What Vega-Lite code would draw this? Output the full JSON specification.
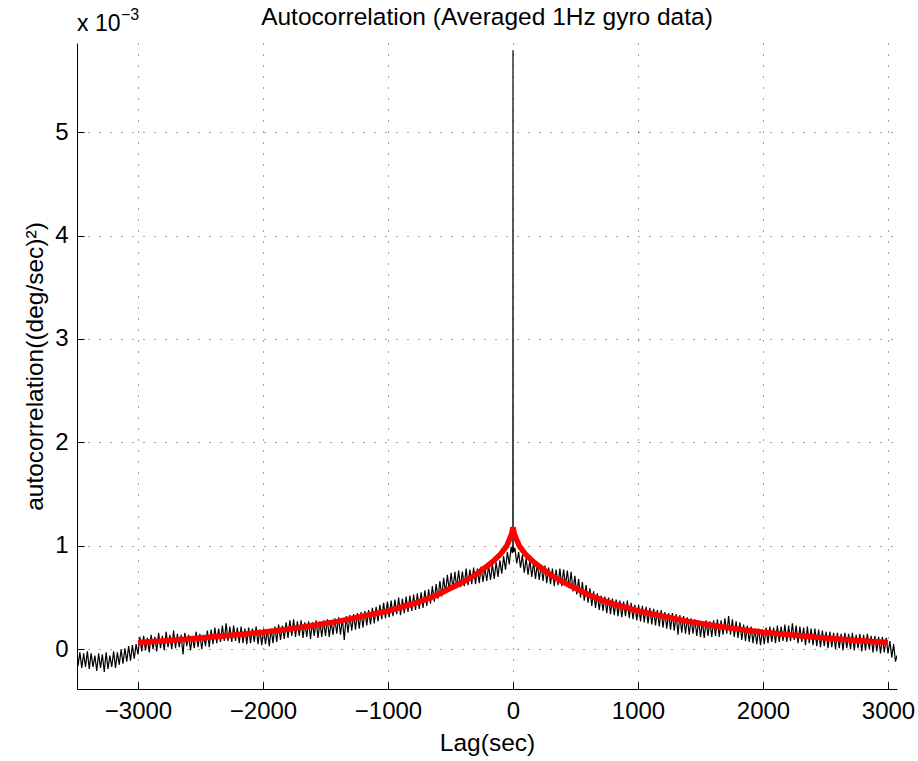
{
"$schema":"https://vega.github.io/schema/vega-lite/v6.json",
"width":820,"height":646,
"autosize":{"type":"none"},
"padding":{"left":77,"top":43,"right":21,"bottom":72},
"background":"white",
"title":{"text":"Autocorrelation (Averaged 1Hz gyro data)","font":"Liberation Sans","fontSize":24.5,"fontWeight":"normal","color":"#000","anchor":"middle","frame":"group","baseline":"alphabetic","offset":-42},
"config":{"view":{"stroke":null},
"axis":{"labelFont":"Liberation Sans","labelFontSize":24,"labelColor":"#000","titleFont":"Liberation Sans","titleFontSize":24.5,"titleFontWeight":"normal","titleColor":"#000","domainColor":"#000","domainWidth":1,"tickColor":"#000","tickWidth":1,"tickSize":-7,"grid":true,"gridColor":"#333","gridDash":[1,10],"gridWidth":1,"gridOpacity":0.9}},
"datasets":{
"acf":[
{"t":-3488,"v":-0.02},{"t":-3480,"v":-0.16},{"t":-3465,"v":-0.03},{"t":-3450,"v":-0.18},{"t":-3435,"v":-0.04},{"t":-3420,"v":-0.17},{"t":-3405,"v":-0.02},{"t":-3390,"v":-0.19},{"t":-3375,"v":-0.04},{"t":-3360,"v":-0.17},{"t":-3345,"v":-0.06},{"t":-3330,"v":-0.21},{"t":-3315,"v":-0.04},{"t":-3300,"v":-0.18},{"t":-3285,"v":-0.05},{"t":-3270,"v":-0.22},{"t":-3255,"v":-0.03},{"t":-3240,"v":-0.19},{"t":-3225,"v":-0.06},{"t":-3210,"v":-0.17},{"t":-3195,"v":-0.02},{"t":-3180,"v":-0.18},{"t":-3165,"v":-0.03},{"t":-3150,"v":-0.15},{"t":-3135,"v":0.00},{"t":-3120,"v":-0.14},{"t":-3105,"v":0.01},{"t":-3090,"v":-0.12},{"t":-3075,"v":0.03},{"t":-3060,"v":-0.11},{"t":-3045,"v":0.04},{"t":-3030,"v":-0.09},{"t":-3015,"v":0.05},{"t":-3000,"v":-0.05},
{"t":-2985,"v":0.12},{"t":-2970,"v":-0.02},{"t":-2955,"v":0.13},{"t":-2940,"v":-0.01},{"t":-2925,"v":0.11},{"t":-2910,"v":-0.03},{"t":-2895,"v":0.14},{"t":-2880,"v":0.00},{"t":-2865,"v":0.12},{"t":-2850,"v":-0.02},{"t":-2835,"v":0.16},{"t":-2820,"v":0.01},{"t":-2805,"v":0.13},{"t":-2790,"v":-0.01},{"t":-2775,"v":0.17},{"t":-2760,"v":0.02},{"t":-2745,"v":0.14},{"t":-2730,"v":0.00},{"t":-2715,"v":0.18},{"t":-2700,"v":0.01},{"t":-2685,"v":0.15},{"t":-2670,"v":0.02},{"t":-2655,"v":0.14},{"t":-2640,"v":-0.05},{"t":-2625,"v":0.16},{"t":-2610,"v":0.03},{"t":-2595,"v":0.14},{"t":-2580,"v":-0.01},{"t":-2565,"v":0.13},{"t":-2550,"v":0.01},{"t":-2535,"v":0.17},{"t":-2520,"v":0.02},{"t":-2505,"v":0.15},{"t":-2490,"v":0.00},{"t":-2475,"v":0.14},{"t":-2460,"v":0.03},{"t":-2445,"v":0.18},{"t":-2430,"v":0.02},{"t":-2415,"v":0.19},{"t":-2400,"v":0.05},{"t":-2385,"v":0.21},{"t":-2370,"v":0.06},{"t":-2355,"v":0.20},{"t":-2340,"v":0.07},{"t":-2325,"v":0.23},{"t":-2310,"v":0.08},{"t":-2295,"v":0.25},{"t":-2280,"v":0.08},{"t":-2265,"v":0.22},{"t":-2250,"v":0.07},{"t":-2235,"v":0.23},{"t":-2220,"v":0.08},{"t":-2205,"v":0.21},{"t":-2190,"v":0.06},{"t":-2175,"v":0.22},{"t":-2160,"v":0.06},{"t":-2145,"v":0.20},{"t":-2130,"v":0.05},{"t":-2115,"v":0.21},{"t":-2100,"v":0.06},{"t":-2085,"v":0.20},{"t":-2070,"v":0.07},{"t":-2055,"v":0.22},{"t":-2040,"v":0.05},{"t":-2025,"v":0.19},{"t":-2010,"v":0.04},
{"t":-1995,"v":0.20},{"t":-1980,"v":0.05},{"t":-1965,"v":0.19},{"t":-1950,"v":0.03},{"t":-1935,"v":0.20},{"t":-1920,"v":0.06},{"t":-1905,"v":0.22},{"t":-1890,"v":0.07},{"t":-1875,"v":0.24},{"t":-1860,"v":0.09},{"t":-1845,"v":0.23},{"t":-1830,"v":0.10},{"t":-1815,"v":0.26},{"t":-1800,"v":0.11},{"t":-1785,"v":0.28},{"t":-1770,"v":0.13},{"t":-1755,"v":0.29},{"t":-1740,"v":0.12},{"t":-1725,"v":0.27},{"t":-1710,"v":0.13},{"t":-1695,"v":0.28},{"t":-1680,"v":0.11},{"t":-1665,"v":0.26},{"t":-1650,"v":0.12},{"t":-1635,"v":0.27},{"t":-1620,"v":0.10},{"t":-1605,"v":0.26},{"t":-1590,"v":0.13},{"t":-1575,"v":0.28},{"t":-1560,"v":0.11},{"t":-1545,"v":0.27},{"t":-1530,"v":0.12},{"t":-1515,"v":0.28},{"t":-1500,"v":0.13},{"t":-1485,"v":0.29},{"t":-1470,"v":0.12},{"t":-1455,"v":0.27},{"t":-1440,"v":0.14},{"t":-1425,"v":0.30},{"t":-1410,"v":0.15},{"t":-1395,"v":0.31},{"t":-1380,"v":0.14},{"t":-1365,"v":0.30},{"t":-1350,"v":0.09},{"t":-1335,"v":0.32},{"t":-1320,"v":0.16},{"t":-1305,"v":0.33},{"t":-1290,"v":0.18},{"t":-1275,"v":0.34},{"t":-1260,"v":0.19},{"t":-1245,"v":0.35},{"t":-1230,"v":0.20},{"t":-1215,"v":0.36},{"t":-1200,"v":0.21},{"t":-1185,"v":0.37},{"t":-1170,"v":0.23},{"t":-1155,"v":0.38},{"t":-1140,"v":0.24},{"t":-1125,"v":0.40},{"t":-1110,"v":0.25},{"t":-1095,"v":0.41},{"t":-1080,"v":0.27},{"t":-1065,"v":0.43},{"t":-1050,"v":0.29},{"t":-1035,"v":0.45},{"t":-1020,"v":0.30},{"t":-1005,"v":0.46},
{"t":-990,"v":0.31},{"t":-975,"v":0.47},{"t":-960,"v":0.32},{"t":-945,"v":0.48},{"t":-930,"v":0.34},{"t":-915,"v":0.50},{"t":-900,"v":0.33},{"t":-885,"v":0.49},{"t":-870,"v":0.35},{"t":-855,"v":0.51},{"t":-840,"v":0.36},{"t":-825,"v":0.52},{"t":-810,"v":0.37},{"t":-795,"v":0.53},{"t":-780,"v":0.38},{"t":-765,"v":0.54},{"t":-750,"v":0.39},{"t":-735,"v":0.55},{"t":-720,"v":0.40},{"t":-705,"v":0.57},{"t":-690,"v":0.42},{"t":-675,"v":0.58},{"t":-660,"v":0.44},{"t":-645,"v":0.61},{"t":-630,"v":0.46},{"t":-615,"v":0.63},{"t":-600,"v":0.49},{"t":-585,"v":0.66},{"t":-570,"v":0.51},{"t":-555,"v":0.69},{"t":-540,"v":0.54},{"t":-525,"v":0.72},{"t":-510,"v":0.57},{"t":-495,"v":0.74},{"t":-480,"v":0.58},{"t":-465,"v":0.75},{"t":-450,"v":0.59},{"t":-435,"v":0.76},{"t":-420,"v":0.60},{"t":-405,"v":0.75},{"t":-390,"v":0.61},{"t":-375,"v":0.78},{"t":-360,"v":0.62},{"t":-345,"v":0.77},{"t":-330,"v":0.63},{"t":-315,"v":0.79},{"t":-300,"v":0.63},{"t":-285,"v":0.78},{"t":-270,"v":0.64},{"t":-255,"v":0.80},{"t":-240,"v":0.65},{"t":-225,"v":0.79},{"t":-210,"v":0.66},{"t":-195,"v":0.81},{"t":-180,"v":0.67},{"t":-165,"v":0.82},{"t":-150,"v":0.68},{"t":-135,"v":0.84},{"t":-120,"v":0.70},{"t":-105,"v":0.86},{"t":-90,"v":0.73},{"t":-75,"v":0.90},{"t":-60,"v":0.77},{"t":-45,"v":0.94},{"t":-30,"v":0.82},{"t":-15,"v":0.99},{"t":-5,"v":0.93},{"t":-1,"v":1.01},{"t":0,"v":5.79},{"t":1,"v":1.02},{"t":5,"v":0.94},
{"t":15,"v":0.98},{"t":30,"v":0.83},{"t":45,"v":0.94},{"t":60,"v":0.79},{"t":75,"v":0.91},{"t":90,"v":0.74},{"t":105,"v":0.88},{"t":120,"v":0.72},{"t":135,"v":0.86},{"t":150,"v":0.70},{"t":165,"v":0.84},{"t":180,"v":0.68},{"t":195,"v":0.83},{"t":210,"v":0.67},{"t":225,"v":0.82},{"t":240,"v":0.66},{"t":255,"v":0.81},{"t":270,"v":0.64},{"t":285,"v":0.79},{"t":300,"v":0.63},{"t":315,"v":0.78},{"t":330,"v":0.61},{"t":345,"v":0.77},{"t":360,"v":0.62},{"t":375,"v":0.78},{"t":390,"v":0.61},{"t":405,"v":0.77},{"t":420,"v":0.62},{"t":435,"v":0.76},{"t":450,"v":0.59},{"t":465,"v":0.75},{"t":480,"v":0.56},{"t":495,"v":0.71},{"t":510,"v":0.53},{"t":525,"v":0.68},{"t":540,"v":0.50},{"t":555,"v":0.65},{"t":570,"v":0.47},{"t":585,"v":0.62},{"t":600,"v":0.45},{"t":615,"v":0.59},{"t":630,"v":0.42},{"t":645,"v":0.56},{"t":660,"v":0.40},{"t":675,"v":0.54},{"t":690,"v":0.38},{"t":705,"v":0.52},{"t":720,"v":0.37},{"t":735,"v":0.51},{"t":750,"v":0.35},{"t":765,"v":0.50},{"t":780,"v":0.34},{"t":795,"v":0.49},{"t":810,"v":0.33},{"t":825,"v":0.48},{"t":840,"v":0.32},{"t":855,"v":0.47},{"t":870,"v":0.31},{"t":885,"v":0.46},{"t":900,"v":0.32},{"t":915,"v":0.47},{"t":930,"v":0.30},{"t":945,"v":0.45},{"t":960,"v":0.29},{"t":975,"v":0.43},{"t":990,"v":0.28},
{"t":1005,"v":0.43},{"t":1020,"v":0.27},{"t":1035,"v":0.42},{"t":1050,"v":0.26},{"t":1065,"v":0.41},{"t":1080,"v":0.25},{"t":1095,"v":0.40},{"t":1110,"v":0.24},{"t":1125,"v":0.39},{"t":1140,"v":0.23},{"t":1155,"v":0.38},{"t":1170,"v":0.22},{"t":1185,"v":0.38},{"t":1200,"v":0.21},{"t":1215,"v":0.36},{"t":1230,"v":0.20},{"t":1245,"v":0.35},{"t":1260,"v":0.19},{"t":1275,"v":0.35},{"t":1290,"v":0.18},{"t":1305,"v":0.34},{"t":1320,"v":0.14},{"t":1335,"v":0.33},{"t":1350,"v":0.16},{"t":1365,"v":0.32},{"t":1380,"v":0.15},{"t":1395,"v":0.31},{"t":1410,"v":0.14},{"t":1425,"v":0.30},{"t":1440,"v":0.15},{"t":1455,"v":0.29},{"t":1470,"v":0.13},{"t":1485,"v":0.28},{"t":1500,"v":0.12},{"t":1515,"v":0.27},{"t":1530,"v":0.11},{"t":1545,"v":0.28},{"t":1560,"v":0.13},{"t":1575,"v":0.27},{"t":1590,"v":0.12},{"t":1605,"v":0.28},{"t":1620,"v":0.13},{"t":1635,"v":0.29},{"t":1650,"v":0.12},{"t":1665,"v":0.28},{"t":1680,"v":0.14},{"t":1695,"v":0.30},{"t":1710,"v":0.15},{"t":1725,"v":0.32},{"t":1740,"v":0.14},{"t":1755,"v":0.29},{"t":1770,"v":0.12},{"t":1785,"v":0.27},{"t":1800,"v":0.11},{"t":1815,"v":0.26},{"t":1830,"v":0.09},{"t":1845,"v":0.24},{"t":1860,"v":0.08},{"t":1875,"v":0.23},{"t":1890,"v":0.07},{"t":1905,"v":0.22},{"t":1920,"v":0.06},{"t":1935,"v":0.20},{"t":1950,"v":0.05},{"t":1965,"v":0.20},{"t":1980,"v":0.04},{"t":1995,"v":0.19},
{"t":2010,"v":0.05},{"t":2025,"v":0.21},{"t":2040,"v":0.06},{"t":2055,"v":0.22},{"t":2070,"v":0.07},{"t":2085,"v":0.21},{"t":2100,"v":0.06},{"t":2115,"v":0.23},{"t":2130,"v":0.07},{"t":2145,"v":0.22},{"t":2160,"v":0.08},{"t":2175,"v":0.24},{"t":2190,"v":0.07},{"t":2205,"v":0.23},{"t":2220,"v":0.08},{"t":2235,"v":0.25},{"t":2250,"v":0.09},{"t":2265,"v":0.23},{"t":2280,"v":0.06},{"t":2295,"v":0.22},{"t":2310,"v":0.07},{"t":2325,"v":0.21},{"t":2340,"v":0.04},{"t":2355,"v":0.22},{"t":2370,"v":0.06},{"t":2385,"v":0.20},{"t":2400,"v":0.04},{"t":2415,"v":0.20},{"t":2430,"v":0.03},{"t":2445,"v":0.19},{"t":2460,"v":0.02},{"t":2475,"v":0.18},{"t":2490,"v":0.03},{"t":2505,"v":0.17},{"t":2520,"v":0.01},{"t":2535,"v":0.17},{"t":2550,"v":0.02},{"t":2565,"v":0.16},{"t":2580,"v":0.00},{"t":2595,"v":0.16},{"t":2610,"v":0.01},{"t":2625,"v":0.15},{"t":2640,"v":-0.01},{"t":2655,"v":0.16},{"t":2670,"v":0.01},{"t":2685,"v":0.15},{"t":2700,"v":0.00},{"t":2715,"v":0.16},{"t":2730,"v":-0.01},{"t":2745,"v":0.14},{"t":2760,"v":0.01},{"t":2775,"v":0.15},{"t":2790,"v":-0.02},{"t":2805,"v":0.14},{"t":2820,"v":-0.01},{"t":2835,"v":0.15},{"t":2850,"v":0.00},{"t":2865,"v":0.13},{"t":2880,"v":-0.03},{"t":2895,"v":0.13},{"t":2910,"v":-0.02},{"t":2925,"v":0.12},{"t":2940,"v":-0.04},{"t":2955,"v":0.12},{"t":2970,"v":-0.03},{"t":2985,"v":0.11},{"t":3000,"v":-0.04},{"t":3015,"v":0.08},{"t":3030,"v":-0.08},{"t":3045,"v":0.05},{"t":3060,"v":-0.12},{"t":3072,"v":-0.06}
],
"fit":[
{"t":-3000,"v":0.065},{"t":-2750,"v":0.085},{"t":-2500,"v":0.11},{"t":-2250,"v":0.135},{"t":-2000,"v":0.165},{"t":-1800,"v":0.195},{"t":-1600,"v":0.23},{"t":-1400,"v":0.27},{"t":-1200,"v":0.32},{"t":-1000,"v":0.37},{"t":-800,"v":0.44},{"t":-700,"v":0.48},{"t":-600,"v":0.53},{"t":-500,"v":0.59},{"t":-400,"v":0.65},{"t":-300,"v":0.72},{"t":-200,"v":0.81},{"t":-150,"v":0.86},{"t":-100,"v":0.92},{"t":-50,"v":1.0},{"t":-25,"v":1.07},{"t":-10,"v":1.12},{"t":0,"v":1.18},
{"t":10,"v":1.12},{"t":25,"v":1.07},{"t":50,"v":1.0},{"t":100,"v":0.92},{"t":150,"v":0.86},{"t":200,"v":0.81},{"t":300,"v":0.72},{"t":400,"v":0.65},{"t":500,"v":0.59},{"t":600,"v":0.53},{"t":700,"v":0.48},{"t":800,"v":0.44},{"t":1000,"v":0.37},{"t":1200,"v":0.32},{"t":1400,"v":0.27},{"t":1600,"v":0.23},{"t":1800,"v":0.195},{"t":2000,"v":0.165},{"t":2250,"v":0.135},{"t":2500,"v":0.11},{"t":2750,"v":0.085},{"t":3000,"v":0.065}
],
"mult":[{"label":"x 10","t":-3488,"v":5.861}],
"multexp":[{"label":"−3","t":-3488,"v":5.861}]
},
"layer":[
{"data":{"name":"acf"},"mark":{"type":"line","color":"#000","strokeWidth":1.2,"clip":true},
"encoding":{
"x":{"field":"t","type":"quantitative","scale":{"domain":[-3488,3072],"nice":false,"zero":false},
"axis":{"values":[-3000,-2000,-1000,0,1000,2000,3000],"format":"d","title":"Lag(sec)","labelPadding":17,"titleBaseline":"alphabetic","titleY":61}},
"y":{"field":"v","type":"quantitative","scale":{"domain":[-0.384,5.861],"nice":false,"zero":false},
"axis":{"values":[0,1,2,3,4,5],"format":"d","title":"autocorrelation((deg/sec)²)","labelPadding":16,"titleX":-35,"titleY":323,"titleBaseline":"alphabetic","titleAlign":"center","titleAngle":-90}}}},
{"data":{"name":"fit"},"mark":{"type":"line","color":"#ff0000","strokeWidth":5.5,"clip":true},
"encoding":{"x":{"field":"t","type":"quantitative"},"y":{"field":"v","type":"quantitative"}}},
{"data":{"name":"mult"},"mark":{"type":"text","font":"Liberation Sans","fontSize":23,"fill":"#000","align":"left","baseline":"alphabetic","dy":-12},
"encoding":{"x":{"field":"t","type":"quantitative"},"y":{"field":"v","type":"quantitative"},"text":{"field":"label","type":"nominal"}}},
{"data":{"name":"multexp"},"mark":{"type":"text","font":"Liberation Sans","fontSize":16,"fill":"#000","align":"left","baseline":"alphabetic","dx":44,"dy":-23},
"encoding":{"x":{"field":"t","type":"quantitative"},"y":{"field":"v","type":"quantitative"},"text":{"field":"label","type":"nominal"}}}
]
}
